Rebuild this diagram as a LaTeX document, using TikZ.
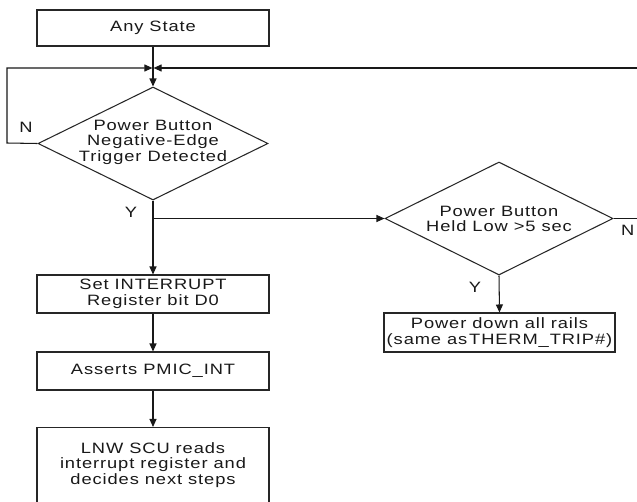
\documentclass[tikz,border=0pt]{standalone}
\usepackage{fontspec}
\setmainfont[FakeStretch=1.22,LetterSpace=6]{Liberation Sans}
\usetikzlibrary{shapes.geometric,arrows.meta}
\tikzset{
  line/.style={draw=black!90,line width=1.05pt},
  arr/.style={line,-{Triangle[length=8pt,width=7pt]}},
  procbox/.style={draw=black!85,line width=1.05pt,rectangle,inner sep=0pt},
  decbox/.style={draw=black!85,line width=1.05pt,diamond,inner sep=0pt},
  txt/.style={align=center,text=black!90,font=\fontsize{15}{15.5}\selectfont,inner sep=0pt},
  lbl/.style={text=black!90,font=\fontsize{15}{15.5}\selectfont,inner sep=0pt}
}
\begin{document}
\begin{tikzpicture}[x=1pt,y=-1pt]
\useasboundingbox[fill=white] (0,0) rectangle (637,501);
% boxes
\node[procbox,minimum width=232pt,minimum height=36pt] (any) at (153,28) {};
\node[txt] (anyt) at (any) {Any State};
\node[decbox,minimum width=230pt,minimum height=113pt] (d1) at (153,143.5) {};
\node[txt] (d1t) at (153,142) {Power Button\\Negative-Edge\\Trigger Detected};
\node[decbox,minimum width=228pt,minimum height=113pt] (d2) at (499,218.5) {};
\node[txt] (d2t) at (499,219) {Power Button\\Held Low >5 sec};
\node[procbox,minimum width=231pt,minimum height=39pt] (pd) at (499.5,332.5) {};
\node[txt] (pdt) at (pd) {Power down all rails\\(same as\hspace{0.12em}THERM\_TRIP\#)};
\node[procbox,minimum width=232pt,minimum height=38pt] (si) at (153,294) {};
\node[txt] (sit) at (si) {Set INTERRUPT\\Register bit D0};
\node[procbox,minimum width=232pt,minimum height=38pt] (as) at (153,371) {};
\node[txt] (ast) at (as) {Asserts PMIC\_INT};
\node[procbox,minimum width=232pt,minimum height=76pt] (lnw) at (153,465.5) {};
\node[txt] (lnwt) at (153,465) {LNW SCU reads\\interrupt register and\\decides next steps};
% helper coordinates
\coordinate (j) at (153,68);
\coordinate (ln) at (7,143);
\coordinate (rr) at (660,218.5);
% labels
\node[lbl] (nl) at (26,127.5) {N};
\node[lbl] (yl) at (131,212) {Y};
\node[lbl] (yl2) at (475,287) {Y};
\node[lbl,anchor=west] (nl2) at (621,230) {N};
% connectors
\draw[arr] (any.south) -- (d1.north);
\draw[arr,shorten >=0.6pt] (d1.west) -- (ln) |- (j);
\draw[arr,shorten >=0.6pt] (d2.east) -- (rr) |- (j);
\draw[arr] (d1.south) -- (si.north);
\draw[arr] (d1.south |- d2.west) -- (d2.west);
\draw[arr] (d2.south) -- (pd.north);
\draw[arr] (si.south) -- (as.north);
\draw[arr] (as.south) -- (lnw.north);
\end{tikzpicture}
\end{document}
